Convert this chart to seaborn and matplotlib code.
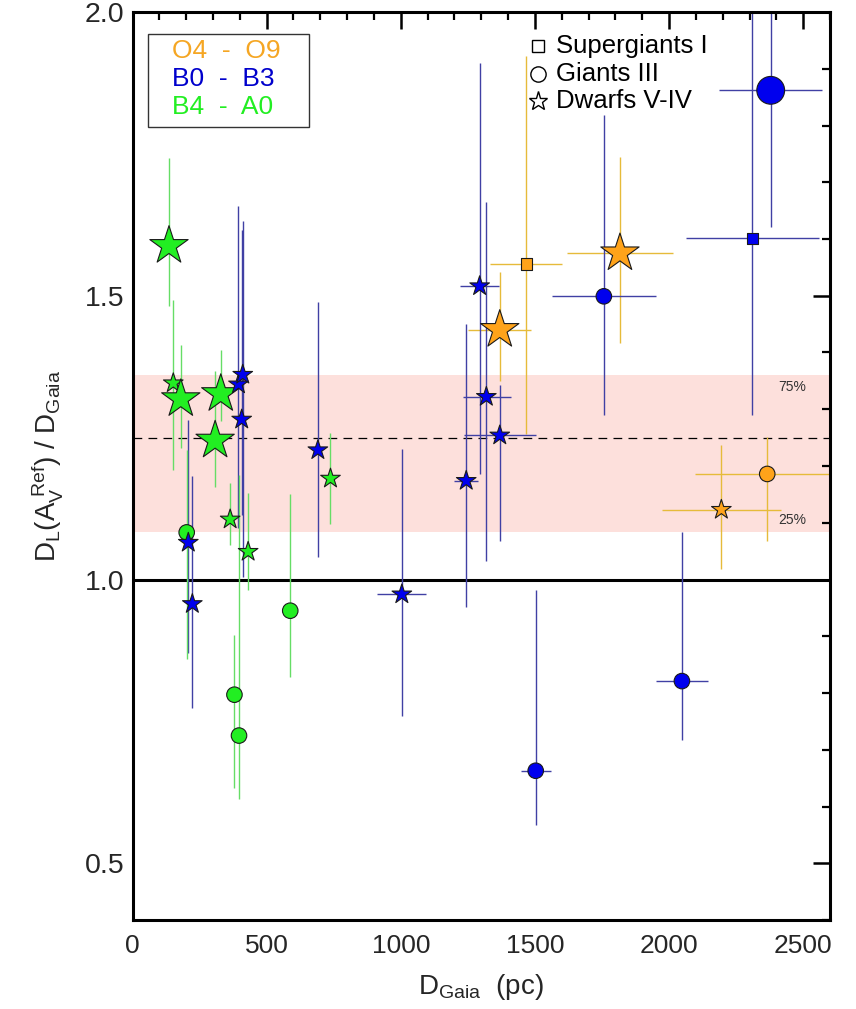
import matplotlib
matplotlib.use("Agg")
import matplotlib.pyplot as plt
import numpy as np
import pandas as pd
import seaborn as sns
from matplotlib.patches import Rectangle
from matplotlib.ticker import MultipleLocator

# ---------------- data ----------------
dist = [136, 152, 180, 329, 308, 364, 431, 738, 202, 588, 380, 397,
        395, 411, 407, 208, 223, 691, 1004, 1294, 1319, 1369, 1244,
        1503, 2048, 1757, 2310, 2379,
        1468, 1369, 1817, 2366, 2195]
ratio = [1.588, 1.346, 1.318, 1.327, 1.245, 1.106, 1.049, 1.178, 1.083, 0.945, 0.797, 0.725,
         1.344, 1.361, 1.282, 1.065, 0.957, 1.228, 0.974, 1.517, 1.322, 1.254, 1.174,
         0.663, 0.821, 1.499, 1.601, 1.862,
         1.556, 1.440, 1.575, 1.186, 1.123]
dist_lo = [136, 152, 180, 329, 308, 364, 431, 738, 202, 588, 380, 397,
           395, 411, 407, 208, 223, 691, 912, 1222, 1231, 1234, 1200,
           1449, 1951, 1564, 2062, 2186,
           1334, 1251, 1620, 2095, 1975]
dist_hi = [136, 152, 180, 329, 308, 364, 431, 738, 202, 588, 380, 397,
           395, 411, 407, 208, 223, 691, 1094, 1368, 1411, 1504, 1289,
           1560, 2146, 1950, 2558, 2572,
           1601, 1487, 2016, 2640, 2416]
ratio_lo = [1.482, 1.193, 1.232, 1.280, 1.163, 1.060, 0.982, 1.098, 0.860, 0.828, 0.632, 0.614,
            1.090, 1.005, 1.114, 0.870, 0.774, 1.039, 0.760, 1.186, 1.033, 1.067, 0.951,
            0.567, 0.718, 1.289, 1.289, 1.621,
            1.257, 1.350, 1.416, 1.068, 1.019]
ratio_hi = [1.742, 1.493, 1.414, 1.404, 1.367, 1.170, 1.153, 1.258, 1.228, 1.150, 0.903, 1.184,
            1.658, 1.632, 1.616, 1.281, 1.182, 1.489, 1.230, 1.910, 1.665, 1.342, 1.450,
            0.981, 1.083, 1.818, 2.100, 2.100,
            1.923, 1.542, 1.744, 1.251, 1.237]
spec = (["B4  -  A0"] * 12 + ["B0  -  B3"] * 16 + ["O4  -  O9"] * 5)
lum = (["Dwarfs V-IV"] * 8 + ["Giants III"] * 4 +
       ["Dwarfs V-IV"] * 11 + ["Giants III"] * 3 + ["Supergiants I", "Giants III"] +
       ["Supergiants I", "Dwarfs V-IV", "Dwarfs V-IV", "Giants III", "Dwarfs V-IV"])
large = [True, False, True, True, True, False, False, False, False, False, False, False,
         False, False, False, False, False, False, False, False, False, False, False,
         False, False, False, False, True,
         False, True, True, False, False]

quartile_labels = ["25%", "75%"]
quartiles = [1.083, 1.361]
median = 1.25

spec_order = ["O4  -  O9", "B0  -  B3", "B4  -  A0"]
lum_order = ["Supergiants I", "Giants III", "Dwarfs V-IV"]
ytick_vals = [0.5, 1.0, 1.5, 2.0]
ytick_labels = ["0.5", "1.0", "1.5", "2.0"]

# ---------------- styling ----------------
fill_col = {"O4  -  O9": "#ffa31a", "B0  -  B3": "#0000ee", "B4  -  A0": "#22ee22"}
err_col = {"O4  -  O9": "#e6bb3a", "B0  -  B3": "#4040a4", "B4  -  A0": "#66dd66"}
text_col = {"O4  -  O9": "#f5a623", "B0  -  B3": "#0000cc", "B4  -  A0": "#22ee22"}
markers = {"Supergiants I": "s", "Giants III": "o", "Dwarfs V-IV": "*"}
size_map = {("Dwarfs V-IV", True): 840, ("Dwarfs V-IV", False): 220,
            ("Giants III", True): 400, ("Giants III", False): 125,
            ("Supergiants I", True): 120, ("Supergiants I", False): 64}

df = pd.DataFrame({"dist": dist, "ratio": ratio, "dist_lo": dist_lo, "dist_hi": dist_hi,
                   "ratio_lo": ratio_lo, "ratio_hi": ratio_hi, "spec": spec,
                   "lum": lum, "large": large})
df["s"] = [size_map[(l, b)] for l, b in zip(df["lum"], df["large"])]

sns.set_theme(style="white")
plt.rcParams["font.family"] = ["Liberation Sans", "DejaVu Sans"]
plt.rcParams["mathtext.fontset"] = "custom"
plt.rcParams["mathtext.rm"] = "Liberation Sans"
plt.rcParams["mathtext.it"] = "Liberation Sans"

W, H = 856, 1009
fig = plt.figure(figsize=(W / 100, H / 100), dpi=100)
ax_l, ax_r, ax_t, ax_b = 132.5, 830, 12, 920
ax = fig.add_axes([ax_l / W, 1 - ax_b / H, (ax_r - ax_l) / W, (ax_b - ax_t) / H])


def px2ax(px, py):
    return (px - ax_l) / (ax_r - ax_l), 1 - (py - ax_t) / (ax_b - ax_t)


ax.set_xlim(0, 2600)
ax.set_ylim(0.4, 2.0)

# interquartile band, median and unity line
ax.axhspan(quartiles[0], quartiles[1], color="#fde0dc", zorder=0, lw=0)
ax.axhline(median, color="black", ls=(0, (7, 5)), lw=0.9, zorder=1)
ax.axhline(1.0, color="black", lw=2.2, zorder=1)
ax.text(2460, quartiles[1] - 0.022, quartile_labels[1], fontsize=10, color="#333333",
        ha="center", va="center")
ax.text(2460, quartiles[0] + 0.021, quartile_labels[0], fontsize=10, color="#333333",
        ha="center", va="center")

# error bars
for sp in spec_order:
    sub = df[df["spec"] == sp]
    ax.errorbar(sub["dist"], sub["ratio"],
                xerr=[sub["dist"] - sub["dist_lo"], sub["dist_hi"] - sub["dist"]],
                yerr=[sub["ratio"] - sub["ratio_lo"], sub["ratio_hi"] - sub["ratio"]],
                fmt="none", ecolor=err_col[sp], elinewidth=1.0, capsize=0, zorder=2)

# markers
sns.scatterplot(data=df, x="dist", y="ratio", hue="spec", palette=fill_col,
                style="lum", markers=markers, size="s",
                sizes={v: v for v in df["s"].unique()},
                edgecolor="#1a1a1a", linewidth=0.8, legend=False, ax=ax, zorder=3)

# axes styling
for sp in ax.spines.values():
    sp.set_linewidth(2.2)
    sp.set_color("black")
ax.xaxis.set_major_locator(MultipleLocator(500))
ax.xaxis.set_minor_locator(MultipleLocator(100))
ax.yaxis.set_minor_locator(MultipleLocator(0.1))
ax.set_yticks(ytick_vals)
ax.set_yticklabels(ytick_labels)
ax.tick_params(which="both", direction="in", top=True, right=True, color="black")
ax.tick_params(which="major", length=12, width=1.8)
ax.tick_params(which="minor", length=6, width=1.6)
ax.tick_params(axis="x", which="major", labelsize=19, pad=10)
ax.tick_params(axis="y", which="major", labelsize=20.5, pad=6)

ax.set_xlabel(r"$\mathrm{D_{Gaia}}$  (pc)", fontsize=20, labelpad=10)
ax.set_ylabel(r"$\mathrm{D_L(A_V^{\ Ref})\ /\ D_{Gaia}}$", fontsize=20, labelpad=14)

# colour legend box (spectral types)
x0, y0 = px2ax(148, 127)
x1, y1 = px2ax(309, 34)
ax.add_patch(Rectangle((x0, y0), x1 - x0, y1 - y0, transform=ax.transAxes,
                       fill=False, edgecolor="#333333", lw=1.0, zorder=5))
for lab, py in zip(spec_order, [51, 79, 107]):
    tx, ty = px2ax(172, py)
    ax.text(tx, ty, lab, transform=ax.transAxes, color=text_col[lab], fontsize=19,
            ha="left", va="center", zorder=6)

# marker legend (luminosity classes)
for lab, py in zip(lum_order, [46, 74, 101]):
    mx, my = px2ax(538, py)
    ms = {"s": 8, "o": 11, "*": 14}[markers[lab]]
    ax.plot([mx], [my], transform=ax.transAxes, ls="none", marker=markers[lab],
            mfc="none", mec="black", mew=1.0, ms=ms, zorder=6, clip_on=False)
    tx, ty = px2ax(556, py)
    ax.text(tx, ty, lab, transform=ax.transAxes, fontsize=18.5, color="black",
            ha="left", va="center", zorder=6)

fig.savefig("out.png", dpi=100)
